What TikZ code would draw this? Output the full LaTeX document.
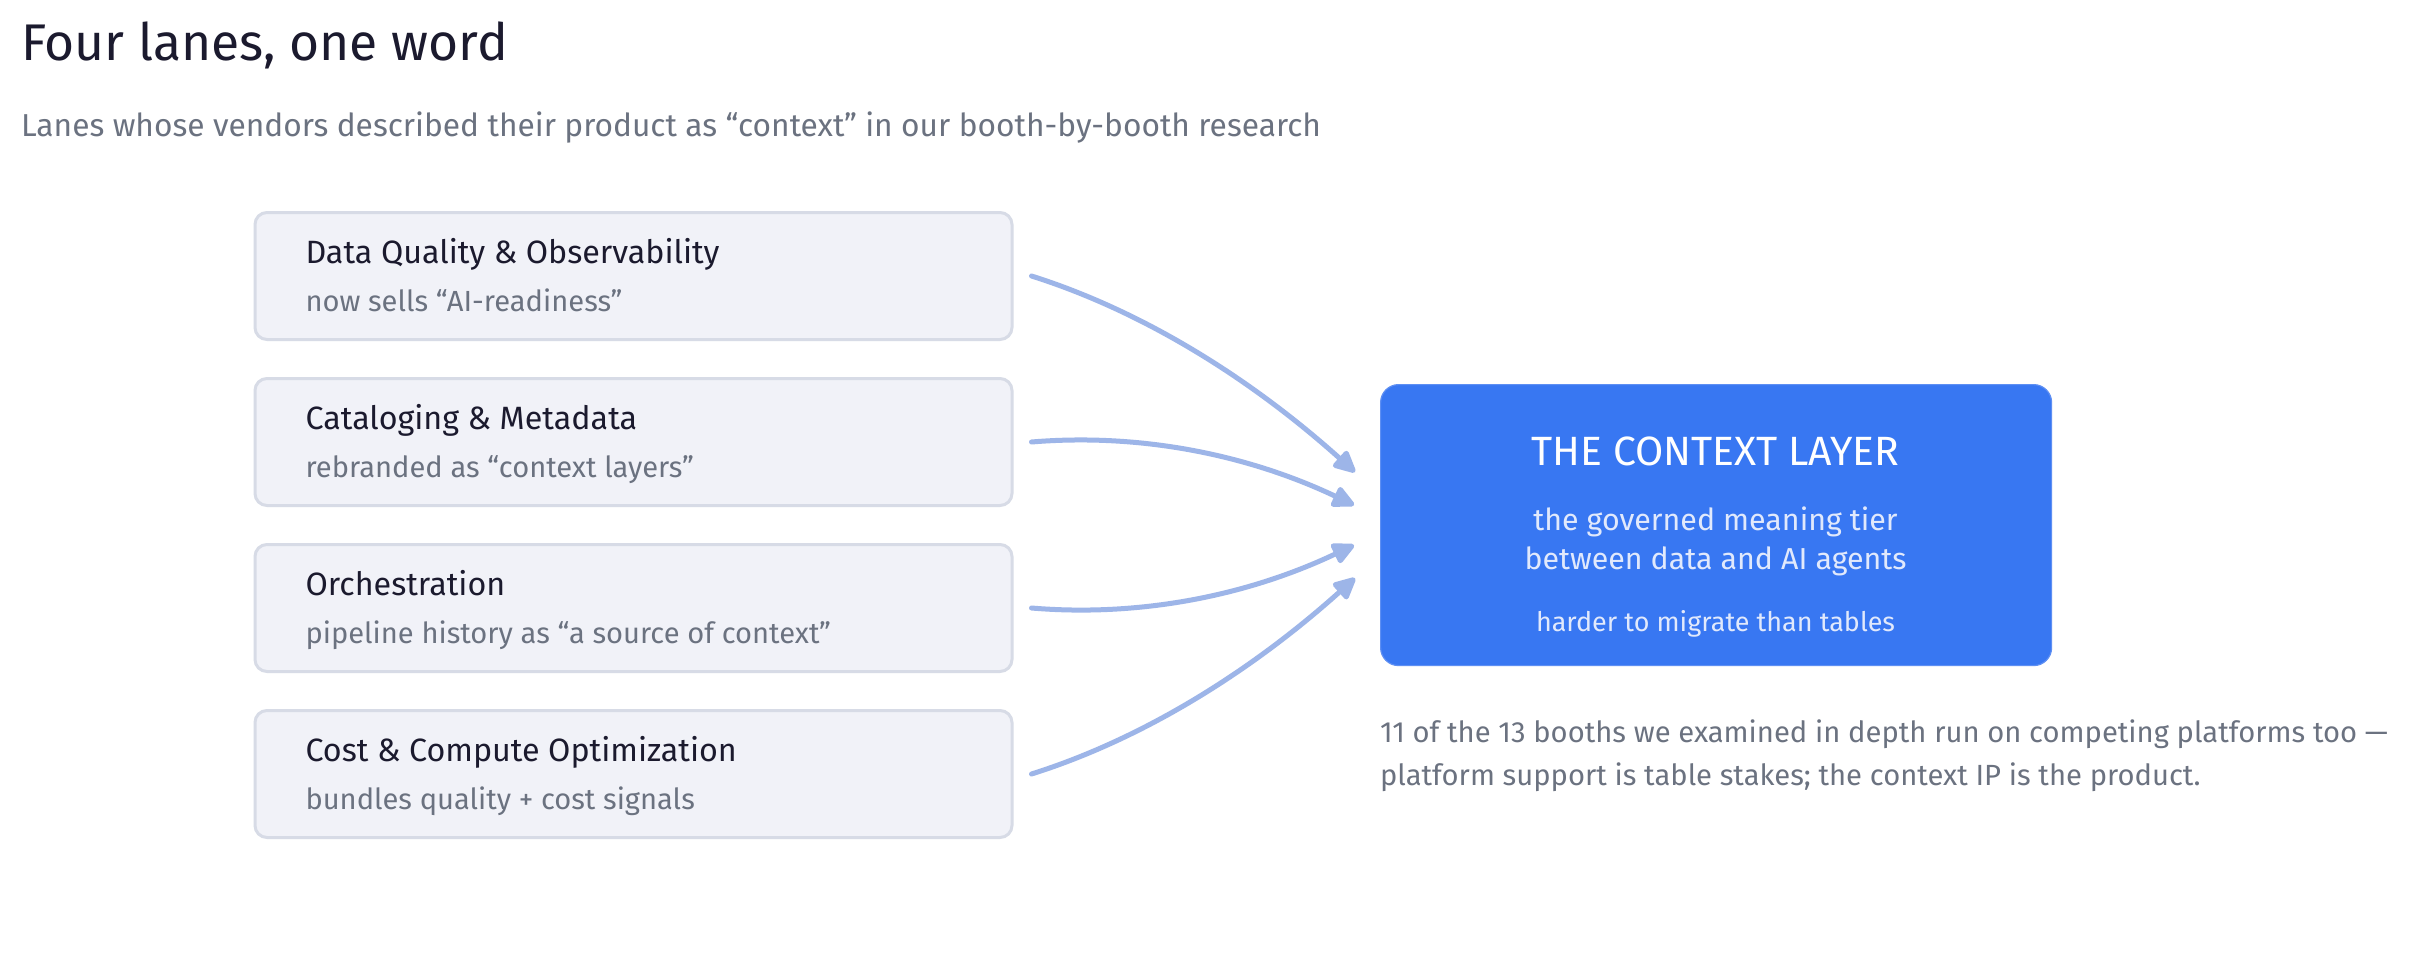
\documentclass[tikz,border=0pt]{standalone}
\usepackage{tikz}
\usepackage{fontspec}
\setmainfont{Fira Sans}
\newfontfamily\lanefam{Fira Sans}
\usetikzlibrary{arrows.meta,calc}

\definecolor{ink}{HTML}{1B1A2E}
\definecolor{muted}{HTML}{6B7280}
\definecolor{boxfill}{HTML}{F1F2F8}
\definecolor{boxline}{HTML}{D7DBE6}
\definecolor{ctxblue}{HTML}{3877F2}
\definecolor{ctxedge}{HTML}{5E8FF3}
\definecolor{ctxsoft}{HTML}{E1E9FC}
\definecolor{arrowblue}{HTML}{9DB5E8}

\newlength\fitlen
\newsavebox\fitbox
% #1 macro name, #2 target width (px = pt here), #3 sample text
\newcommand\fitsize[3]{%
  \sbox\fitbox{\lanefam\fontsize{10pt}{12pt}\selectfont #3}%
  \global\fitlen=\wd\fitbox\relax
  \pgfmathsetmacro#1{10*#2/\fitlen}%
  \global\let#1=#1}

\fitsize{\szTitle}{487}{Four lanes, one word}
\fitsize{\szSub}{1300}{Lanes whose vendors described their product as “context” in our booth-by-booth research}
\fitsize{\szLane}{414}{Data Quality \& Observability}
\fitsize{\szLaneNote}{317}{now sells “AI-readiness”}
\fitsize{\szCtxTitle}{368}{THE CONTEXT LAYER}
\fitsize{\szCtxBody}{382}{between data and AI agents}
\fitsize{\szCtxSmall}{359}{harder to migrate than tables}
\fitsize{\szFoot}{1008}{11 of the 13 booths we examined in depth run on competing platforms too —}

\begin{document}
\begin{tikzpicture}[x=1pt,y=-1pt,
  txt/.style={inner sep=0pt, outer sep=0pt},
  titletxt/.style={txt, anchor=base west, text=ink, font=\lanefam\fontsize{\szTitle}{\szTitle}\selectfont},
  subtxt/.style={txt, anchor=base west, text=muted, font=\lanefam\fontsize{\szSub}{\szSub}\selectfont},
  lanebox/.style={draw=boxline, fill=boxfill, line width=3pt, rounded corners=12pt,
    minimum width=757pt, minimum height=127pt, anchor=north west, inner sep=0pt},
  lanetitle/.style={txt, anchor=base west, text=ink, font=\lanefam\fontsize{\szLane}{\szLane}\selectfont},
  lanenote/.style={txt, anchor=base west, text=muted, font=\lanefam\fontsize{\szLaneNote}{\szLaneNote}\selectfont},
  ctxbox/.style={draw=ctxedge, fill=ctxblue, line width=1.2pt, rounded corners=18pt,
    minimum width=671pt, minimum height=281pt, anchor=north west, inner sep=0pt},
  ctxtitle/.style={txt, anchor=base, text=white, font=\lanefam\fontsize{\szCtxTitle}{\szCtxTitle}\selectfont},
  ctxbody/.style={txt, anchor=base, text=ctxsoft, font=\lanefam\fontsize{\szCtxBody}{\szCtxBody}\selectfont},
  ctxsmall/.style={txt, anchor=base, text=ctxsoft, font=\lanefam\fontsize{\szCtxSmall}{\szCtxSmall}\selectfont},
  foottxt/.style={txt, anchor=base west, text=muted, font=\lanefam\fontsize{\szFoot}{\szFoot}\selectfont},
  flow/.style={draw=arrowblue, line width=5pt, line cap=round,
    -{Triangle[length=25pt,width=23pt,round]}}
]
\useasboundingbox (0,0) rectangle (2409,966);
\fill[white] (0,0) rectangle (2409,966);

% heading
\node[titletxt] (title) at (21,61) {Four lanes, one word};
\node[subtxt] (subtitle) at (21,136) {Lanes whose vendors described their product as “context” in our booth-by-booth research};

% lanes
\node[lanebox] (b1) at (253.5,211) {};
\node[lanebox] (b2) at (253.5,377) {};
\node[lanebox] (b3) at (253.5,543) {};
\node[lanebox] (b4) at (253.5,709) {};

\node[lanetitle] (t1) at ($(b1.north west)+(52,52.5)$) {Data Quality \& Observability};
\node[lanenote]  (n1) at ($(b1.north west)+(52,100.5)$) {now sells “AI-readiness”};
\node[lanetitle] (t2) at ($(b2.north west)+(52,52.5)$) {Cataloging \& Metadata};
\node[lanenote]  (n2) at ($(b2.north west)+(52,100.5)$) {rebranded as “context layers”};
\node[lanetitle] (t3) at ($(b3.north west)+(52,52.5)$) {Orchestration};
\node[lanenote]  (n3) at ($(b3.north west)+(52,100.5)$) {pipeline history as “a source of context”};
\node[lanetitle] (t4) at ($(b4.north west)+(52,52.5)$) {Cost \& Compute Optimization};
\node[lanenote]  (n4) at ($(b4.north west)+(52,100.5)$) {bundles quality + cost signals};

% the context layer
\node[ctxbox] (ctx) at (1380,384) {};
\node[ctxtitle] (ct) at (1715.5,465) {THE CONTEXT LAYER};
\node[ctxbody] (cb1) at (1715.5,530) {the governed meaning tier};
\node[ctxbody] (cb2) at (1715.5,569) {between data and AI agents};
\node[ctxsmall] (cs) at (1715.5,631) {harder to migrate than tables};

% footnote
\node[foottxt] (f1) at (1380,742) {11 of the 13 booths we examined in depth run on competing platforms too —};
\node[foottxt] (f2) at (1380,785) {platform support is table stakes; the context IP is the product.};

% connectors (quadratic curves bowing away from the centre)
\coordinate (s1) at ($(b1.east)+(18,0)$);
\coordinate (s2) at ($(b2.east)+(18,0)$);
\coordinate (s3) at ($(b3.east)+(18,0)$);
\coordinate (s4) at ($(b4.east)+(18,0)$);
\coordinate (e1) at ($(ctx.west)+(-25,-53)$);
\coordinate (e2) at ($(ctx.west)+(-26,-20)$);
\coordinate (e3) at ($(ctx.west)+(-26,20)$);
\coordinate (e4) at ($(ctx.west)+(-25,53)$);
\coordinate (q1) at ($($(s1)!0.5!(e1)$)+(0,-47)$);
\coordinate (q2) at ($($(s2)!0.5!(e2)$)+(0,-45)$);
\coordinate (q3) at ($($(s3)!0.5!(e3)$)+(0,45)$);
\coordinate (q4) at ($($(s4)!0.5!(e4)$)+(0,47)$);

\draw[flow] (s1) .. controls ($(s1)!2/3!(q1)$) and ($(e1)!2/3!(q1)$) .. (e1);
\draw[flow] (s2) .. controls ($(s2)!2/3!(q2)$) and ($(e2)!2/3!(q2)$) .. (e2);
\draw[flow] (s3) .. controls ($(s3)!2/3!(q3)$) and ($(e3)!2/3!(q3)$) .. (e3);
\draw[flow] (s4) .. controls ($(s4)!2/3!(q4)$) and ($(e4)!2/3!(q4)$) .. (e4);
\end{tikzpicture}
\end{document}
